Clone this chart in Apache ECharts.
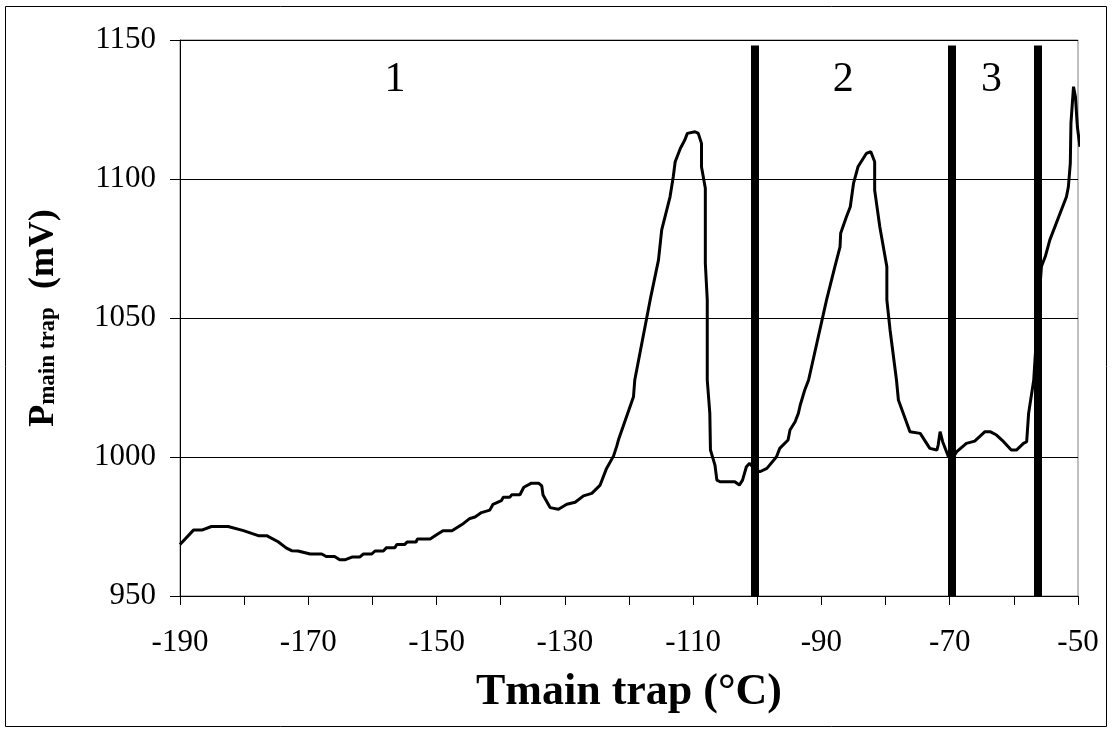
<!DOCTYPE html>
<html>
<head>
<meta charset="utf-8">
<script src="https://cdn.jsdelivr.net/npm/echarts@6/dist/echarts.min.js"></script>
<style>
 html, body { margin: 0; padding: 0; background: #fff; }
 #chart { width: 1112px; height: 735px; }
</style>
</head>
<body>
<div id="chart"></div>
<script>
 // temperature of the main trap (degC) and pressure signal (mV)
 var tempC = [
  -190, -187.9, -186.6, -185.1, -182.5, -180.1, -177.8, -176.5, -174.7, -173.4,
  -172.6, -171.6, -169.7, -167.9, -167.2, -165.9, -165.1, -164.3, -163.2, -162,
  -161.4, -160.1, -159.6, -158.3, -157.8, -156.5, -156.2, -155, -154.6, -153.2,
  -153, -151, -150, -149, -147.6, -145.8, -144.8, -144, -143, -141.7,
  -141.2, -139.9, -139.6, -138.6, -138.3, -137, -136.4, -135.2, -134.1, -133.6,
  -133.4, -132.3, -131, -129.7, -128.4, -127.1, -125.8, -124.5, -123.5, -122.4,
  -121.9, -121.6, -119.3, -119.1, -116.7, -115.4, -114.9, -113.6, -113.1, -112.8,
  -112, -111.3, -110.9, -109.7, -109.2, -108.7, -108.7, -108.1, -108.1, -107.8,
  -107.8, -107.4, -107.3, -106.6, -106.3, -105.8, -103.5, -102.8, -102.3, -101.7,
  -101.2, -100.4, -99.6, -98.5, -97, -96.5, -95.2, -94.9, -94.1, -93.6,
  -93.3, -92.6, -92, -89.2, -87.9, -87.1, -87, -86.1, -85.5, -85,
  -84.3, -83, -82.3, -81.7, -81.7, -80.9, -79.8, -79.8, -79.3, -78.3,
  -78, -76.2, -74.6, -73.1, -72, -71.8, -71.5, -71.1, -70.2, -69.6,
  -68.9, -67.4, -66.1, -64.5, -63.7, -62.7, -61.6, -60.4, -59.6, -58.5,
  -58, -57.7, -56.9, -56.3, -55.7, -55.1, -54.4, -51.8, -51.5, -51.2,
  -51.1, -50.7, -50.4, -50.1, -49.7
 ];
 var pressure = [
  968.5, 973.7, 973.7, 975, 975, 973.5, 971.7, 971.7, 969.5, 967.2,
  966.3, 966.2, 965.1, 965.1, 964.2, 964.2, 963, 963, 964, 964,
  965.1, 965.1, 966.2, 966.2, 967.4, 967.4, 968.5, 968.5, 969.4, 969.4,
  970.5, 970.5, 972, 973.5, 973.5, 976.1, 977.9, 978.4, 980, 980.9,
  983, 984.3, 985.5, 985.5, 986.4, 986.4, 989.1, 990.6, 990.6, 989.6,
  986.3, 981.8, 981.2, 983, 983.7, 986, 986.9, 989.9, 995.9, 1000.4,
  1004, 1006.5, 1021.7, 1027.7, 1056.5, 1070.9, 1081.7, 1093.6, 1100.8, 1106.2,
  1111, 1114, 1116.4, 1117, 1116.4, 1112.8, 1104.4, 1096.7, 1069.7, 1056.5,
  1027.7, 1015.7, 1002.5, 997.1, 991.7, 991.1, 991.1, 989.9, 991.7, 996.5,
  997.7, 995.5, 994.7, 995.9, 1000.1, 1003.1, 1006.1, 1009.7, 1012.7, 1015.7,
  1018.7, 1024.1, 1027.7, 1056.5, 1068.5, 1075.6, 1080.5, 1086.4, 1090, 1098.4,
  1104.4, 1109.2, 1109.8, 1106.2, 1096, 1082.8, 1068.4, 1056.5, 1045.7, 1027.7,
  1020.5, 1009.1, 1008.5, 1003.1, 1002.5, 1004.3, 1009.1, 1005.5, 1000.1, 999.5,
  1001.9, 1004.9, 1005.7, 1009.1, 1009.1, 1007.9, 1005.5, 1002.5, 1002.5, 1004.9,
  1005.5, 1015.7, 1027.7, 1050, 1068.5, 1072.1, 1078, 1093.6, 1097.2, 1105.6,
  1120, 1133.2, 1129.6, 1118.8, 1111.6
 ];

 // thick vertical separators between the regions
 var dividerT = [-100.4, -69.7, -56.2];
 var dividerTop = 1148;

 // region numbers written at the top of the plot
 var regionNames = ["1", "2", "3"];
 var regionT = [-156.5, -86.6, -63.5];
 var regionP = [1135.5, 1135.5, 1135.5];

 var serif = "'Liberation Serif', 'Times New Roman', serif";

 var trace = [];
 for (var i = 0; i < tempC.length; i++) {
  trace.push([tempC[i], pressure[i]]);
 }

 var dividers = dividerT.map(function(t) {
  return [{ coord: [t, 950] }, { coord: [t, dividerTop] }];
 });

 var regions = [];
 for (var j = 0; j < regionNames.length; j++) {
  regions.push({ name: regionNames[j], value: [regionT[j], regionP[j]] });
 }

 var myChart = echarts.init(document.getElementById("chart"), null, { renderer: "canvas" });
 var option = {
  backgroundColor: "#fff",
  animation: false,
  grid: {
   left: 180,
   right: 34,
   top: 40,
   bottom: 139,
   show: true,
   borderColor: "#808080",
   borderWidth: 1
  },
  xAxis: {
   type: "value",
   min: -190,
   max: -50,
   interval: 10,
   axisLine: { lineStyle: { color: "#000", width: 1 } },
   axisTick: { show: true, inside: false, length: 9, lineStyle: { color: "#000" } },
   splitLine: { show: false },
   axisLabel: {
    margin: 31,
    color: "#000",
    fontFamily: serif,
    fontSize: 31,
    formatter: function(v) {
     return (v + 190) % 20 === 0 ? String(v) : "";
    }
   },
   name: "Tmain trap (°C)",
   nameLocation: "middle",
   nameGap: 75,
   nameTextStyle: { color: "#000", fontFamily: serif, fontWeight: "bold", fontSize: 44 }
  },
  yAxis: {
   type: "value",
   min: 950,
   max: 1150,
   interval: 50,
   axisLine: { show: true, lineStyle: { color: "#000", width: 1 } },
   axisTick: { show: true, inside: false, length: 10, lineStyle: { color: "#000" } },
   splitLine: { show: true, lineStyle: { color: "#000", width: 1 } },
   axisLabel: {
    margin: 24,
    color: "#000",
    fontFamily: serif,
    fontSize: 31,
    formatter: function(v) {
     return String(v);
    }
   },
   name: "{p|P}{s|main trap}{p|  (mV)}",
   nameLocation: "middle",
   nameRotate: 90,
   nameGap: 118,
   nameTextStyle: {
    color: "#000",
    rich: {
     p: { fontFamily: serif, fontWeight: "bold", fontSize: 36, color: "#000" },
     s: { fontFamily: serif, fontWeight: "bold", fontSize: 23, color: "#000", padding: [8, 0, 0, 0] }
    }
   }
  },
  series: [{
   name: "P main trap",
   type: "line",
   data: trace,
   showSymbol: false,
   smooth: false,
   lineStyle: { color: "#000", width: 3 },
   markLine: {
    silent: true,
    symbol: ["none", "none"],
    label: { show: false },
    lineStyle: { color: "#000", width: 8, type: "solid" },
    data: dividers
   }
  }, {
   name: "regions",
   type: "scatter",
   data: regions,
   symbolSize: 0,
   itemStyle: { opacity: 1 },
   label: {
    show: true,
    position: "inside",
    formatter: "{b}",
    color: "#000",
    opacity: 1,
    fontFamily: serif,
    fontSize: 42
   }
  }],
  graphic: [{
   type: "rect",
   shape: { x: 5.5, y: 6.5, width: 1101, height: 720 },
   style: { fill: null, stroke: "#000", lineWidth: 1 },
   silent: true
  }]
 };
 if (option && typeof option === "object") {
  myChart.setOption(option, true);
 }
</script>
</body>
</html>
